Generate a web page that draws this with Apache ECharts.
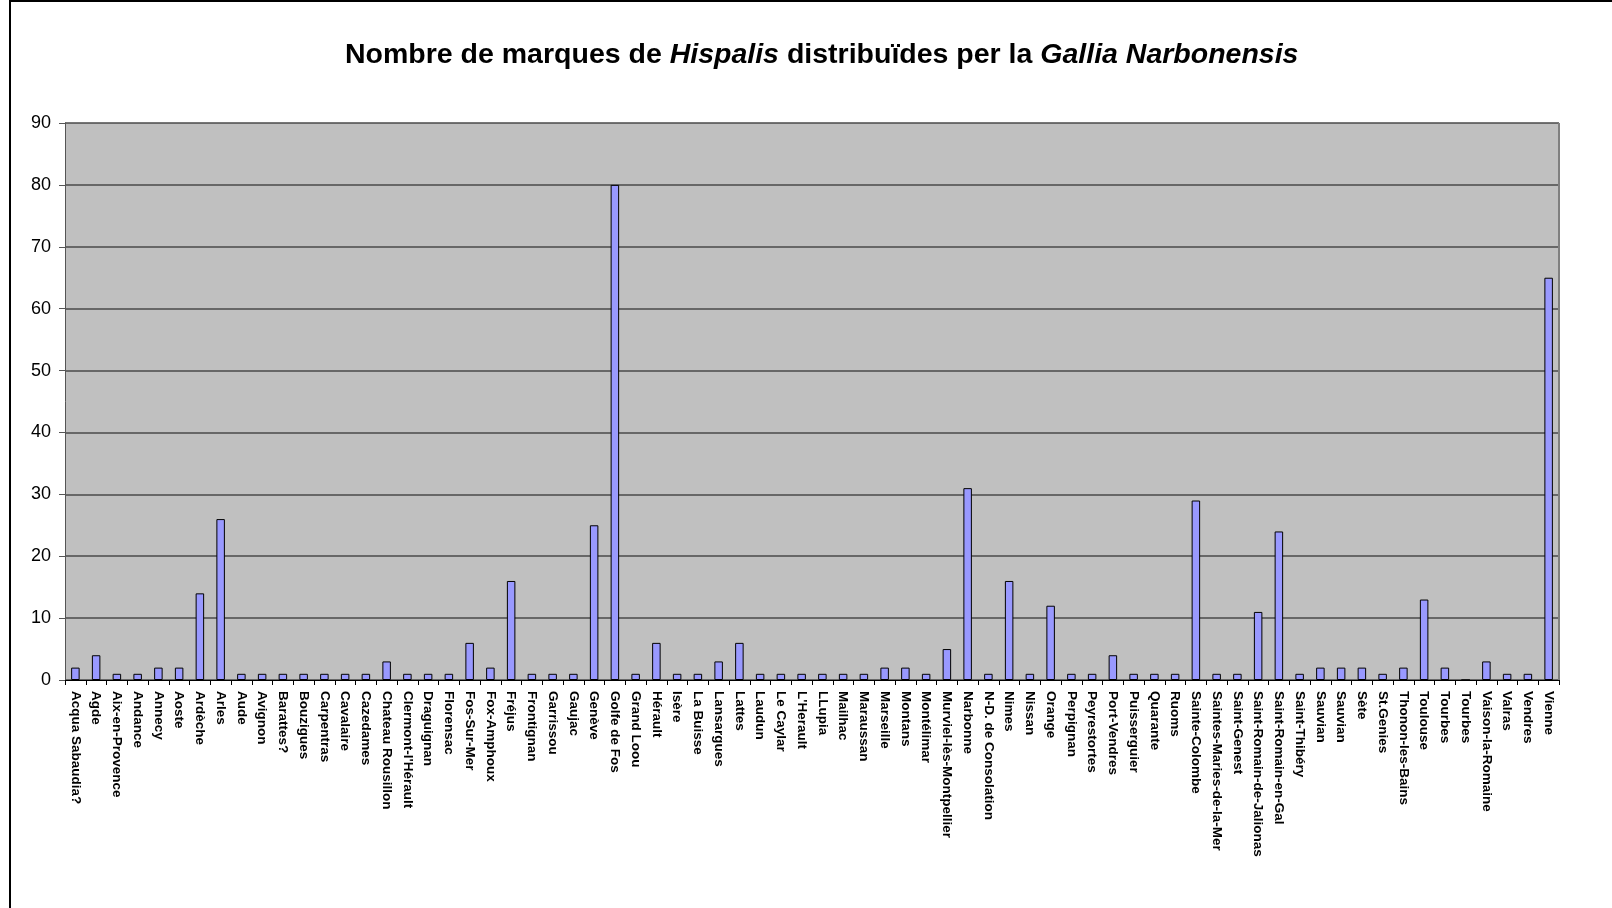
<!DOCTYPE html>
<html>
<head>
<meta charset="utf-8">
<script src="https://cdn.jsdelivr.net/npm/echarts@6/dist/echarts.min.js"></script>
<style>
html,body{margin:0;padding:0;background:#fff;}
#c{width:1612px;height:908px;}
</style>
</head>
<body>
<div id="c"></div>
<script>
const categories = [
  "Acqua Sabaudia?","Agde","Aix-en-Provence","Andance","Annecy","Aoste","Ardèche","Arles",
  "Aude","Avignon","Barattes?","Bouzigues","Carpentras","Cavalaire","Cazedames","Chateau Rousillon",
  "Clermont-l'Hérault","Draguignan","Florensac","Fos-Sur-Mer","Fox-Amphoux","Fréjus","Frontignan","Garrissou",
  "Gaujac","Genève","Golfe de Fos","Grand Loou","Hérault","Isère","La Buisse","Lansargues",
  "Lattes","Laudun","Le Caylar","L'Herault","LLupia","Mailhac","Maraussan","Marseille",
  "Montans","Montélimar","Murviel-lès-Montpellier","Narbonne","N-D. de Consolation","Nimes","Nissan","Orange",
  "Perpignan","Peyrestortes","Port-Vendres","Puisserguier","Quarante","Ruoms","Sainte-Colombe","Saintes-Maries-de-la-Mer",
  "Saint-Genest","Saint-Romain-de-Jalionas","Saint-Romain-en-Gal","Saint-Thibéry","Sauvian","Sauvian","Sète","St.Genies",
  "Thonon-les-Bains","Toulouse","Tourbes","Tourbes","Vaison-la-Romaine","Valras","Vendres","Vienne"
];
const values = [
  2,4,1,1,2,2,14,26,
  1,1,1,1,1,1,1,3,
  1,1,1,6,2,16,1,1,
  1,25,80,1,6,1,1,3,
  6,1,1,1,1,1,1,2,
  2,1,5,31,1,16,1,12,
  1,1,4,1,1,1,29,1,
  1,11,24,1,2,2,2,1,
  2,13,2,0,3,1,1,65
];
const yTicks = [0,10,20,30,40,50,60,70,80,90];

const chart = echarts.init(document.getElementById('c'), null, {renderer:'canvas'});
const font = "Arial, 'Liberation Sans', sans-serif";
chart.setOption({
  animation:false,
  backgroundColor:'#ffffff',
  title:{
    left:340,
    top:36,
    text:'{n|Nombre de marques de }{i|Hispalis}{n| distribuïdes per la }{i|Gallia Narbonensis}',
    textStyle:{
      rich:{
        n:{fontFamily:font,fontSize:28.5,fontWeight:'bold',color:'#000'},
        i:{fontFamily:font,fontSize:28.5,fontWeight:'bold',fontStyle:'italic',color:'#000'}
      }
    }
  },
  graphic:[
    {type:'rect',shape:{x:10,y:1,width:1700,height:1000},style:{fill:'none',stroke:'#000',lineWidth:2},silent:true},
    {type:'line',shape:{x1:1559,y1:123,x2:1559,y2:680},style:{stroke:'#808080',lineWidth:2},z:10,silent:true}
  ],
  grid:{left:65,right:53,top:123,bottom:228,show:true,backgroundColor:'#C0C0C0',borderWidth:0},
  xAxis:{
    type:'category',
    data:categories,
    boundaryGap:true,
    axisLine:{show:true,lineStyle:{color:'#000',width:1}},
    axisTick:{show:true,length:5,lineStyle:{color:'#000'},interval:0},
    axisLabel:{interval:0,rotate:-90,margin:11,fontFamily:font,fontSize:13.5,fontWeight:'bold',color:'#000'}
  },
  yAxis:{
    type:'value',
    min:yTicks[0],max:yTicks[yTicks.length-1],interval:10,
    axisLine:{show:true,lineStyle:{color:'#555',width:1}},
    axisTick:{show:true,length:6,lineStyle:{color:'#555'}},
    axisLabel:{fontFamily:font,fontSize:18,color:'#000',margin:14},
    splitLine:{show:true,lineStyle:{color:'#4a4a4a',width:1.5}}
  },
  series:[{
    type:'bar',
    data:values,
    barWidth:8.5,
    itemStyle:{color:'#9999FF',borderColor:'#000',borderWidth:1}
  }]
});
</script>
</body>
</html>
